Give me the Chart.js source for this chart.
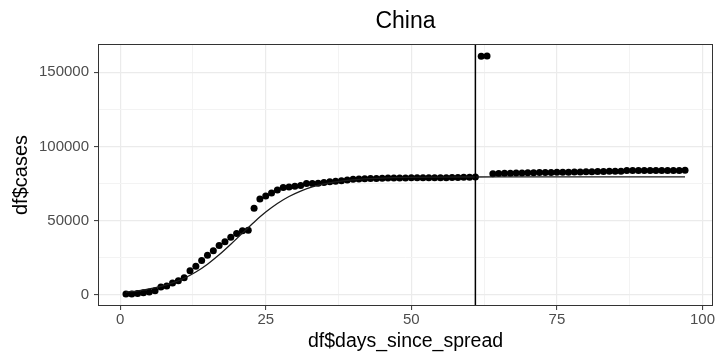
<!DOCTYPE html>
<html>
<head>
<meta charset="utf-8">
<script src="https://cdn.jsdelivr.net/npm/chart.js@4.4.1/dist/chart.umd.min.js"></script>
<style>
  html, body { margin: 0; padding: 0; background: #fff; }
  #wrap { width: 717px; height: 356px; }
</style>
</head>
<body>
<div id="wrap"><canvas id="chart"></canvas></div>
<script>
// Observed data: days since spread vs cumulative cases
const days = [
  1, 2, 3, 4, 5, 6, 7, 8, 9, 10, 11, 12, 13, 14, 15, 16, 17, 18, 19, 20,
  21, 22, 23, 24, 25, 26, 27, 28, 29, 30, 31, 32, 33, 34, 35, 36, 37, 38, 39, 40,
  41, 42, 43, 44, 45, 46, 47, 48, 49, 50, 51, 52, 53, 54, 55, 56, 57, 58, 59, 60,
  61, 62, 63, 64, 65, 66, 67, 68, 69, 70, 71, 72, 73, 74, 75, 76, 77, 78, 79, 80,
  81, 82, 83, 84, 85, 86, 87, 88, 89, 90, 91, 92, 93, 94, 95, 96, 97
];
const cases = [
  550, 630, 900, 1370, 2020, 2800, 5370, 5930, 7940, 9560,
  11600, 16210, 19220, 23110, 26750, 29820, 33250, 35890, 38830, 41290,
  43280, 43640, 58400, 64700, 66700, 68750, 70620, 72350, 72750, 73200,
  73660, 75080, 75100, 75310, 75810, 76210, 76640, 76950, 77370, 77930,
  78130, 78250, 78380, 78520, 78670, 78750, 78800, 78840, 78860, 78900,
  78910, 78920, 78950, 78980, 79010, 79030, 79070, 79130, 79220, 79270,
  79400, 160900, 161050, 81661, 81782, 81897, 81999, 82122, 82198, 82279,
  82361, 82432, 82511, 82543, 82602, 82665, 82718, 82809, 82883, 82941,
  83014, 83134, 83213, 83306, 83356, 83403, 83760, 83787, 83805, 83817,
  83853, 83868, 83884, 83899, 83909, 83912, 83918
];

// Fitted curve
const fitDays = [1, 3, 5, 7, 9, 11, 13, 15, 17, 19, 21, 23, 25, 27, 29, 31, 33, 35, 37, 39,
  41, 43, 45, 47, 50, 55, 60, 70, 80, 97];
const fitCases = [1909, 2760, 3973, 5679, 8038, 11229, 15413, 20687, 27003, 34120,
  41645, 49014, 55789, 61580, 66305, 69982, 72736, 74746, 76186, 77207,
  77918, 78410, 78752, 78987, 79209, 79387, 79456, 79493, 79499, 79500];

const vlineDay = 61;

const xTickLabels = [0, 25, 50, 75, 100];
const yTickLabels = [0, 50000, 100000, 150000];

const FONT = "'Liberation Sans', Arial, Helvetica, sans-serif";

// majors plus a minor grid line half way between each pair
function withMinors(majors) {
  const out = [];
  majors.forEach((v, i) => {
    out.push({ value: v });
    if (i < majors.length - 1) out.push({ value: (v + majors[i + 1]) / 2 });
  });
  return out;
}

const isMajorX = v => xTickLabels.includes(v);
const isMajorY = v => yTickLabels.includes(v);

const frame = {
  id: 'frame',
  afterDatasetsDraw(chart) {
    const { ctx, chartArea: a, scales } = chart;
    const px = scales.x.getPixelForValue(vlineDay);
    ctx.save();
    ctx.strokeStyle = '#000';
    ctx.lineWidth = 1.5;
    ctx.beginPath();
    ctx.moveTo(px, a.top);
    ctx.lineTo(px, a.bottom);
    ctx.stroke();
    ctx.strokeStyle = '#333333';
    ctx.lineWidth = 1;
    ctx.strokeRect(a.left + 0.5, a.top + 0.5, a.right - a.left - 1, a.bottom - a.top - 1);
    ctx.restore();
  }
};

new Chart(document.getElementById('chart'), {
  type: 'scatter',
  data: {
    datasets: [
      {
        type: 'scatter',
        data: days.map((d, i) => ({ x: d, y: cases[i] })),
        pointRadius: 3.5,
        pointBackgroundColor: '#000',
        pointBorderWidth: 0,
        order: 2
      },
      {
        type: 'line',
        data: fitDays.map((d, i) => ({ x: d, y: fitCases[i] })),
        borderColor: '#1a1a1a',
        borderWidth: 1.3,
        pointRadius: 0,
        cubicInterpolationMode: 'monotone',
        fill: false,
        order: 1
      }
    ]
  },
  options: {
    responsive: true,
    maintainAspectRatio: false,
    animation: false,
    layout: { padding: { top: 0, right: 3, bottom: 0, left: 0 } },
    plugins: {
      legend: { display: false },
      tooltip: { enabled: false },
      title: {
        display: true,
        text: 'China',
        fullSize: false,
        color: '#000',
        font: { family: FONT, size: 23, weight: 'normal' },
        padding: { top: 8, bottom: 8.4 }
      }
    },
    scales: {
      x: {
        type: 'linear',
        min: -3.8,
        max: 101.8,
        afterBuildTicks: s => { s.ticks = withMinors(xTickLabels); },
        afterFit: s => { s.height = 50; },
        border: { display: false },
        grid: {
          color: c => isMajorX(c.tick.value) ? '#ebebeb' : '#f3f3f3',
          lineWidth: c => isMajorX(c.tick.value) ? 1.2 : 1,
          tickColor: c => isMajorX(c.tick.value) ? '#333333' : 'rgba(0,0,0,0)',
          tickLength: 4,
          tickWidth: 1
        },
        ticks: {
          autoSkip: false,
          maxRotation: 0,
          padding: 1,
          color: '#4d4d4d',
          font: { family: FONT, size: 15 },
          callback: v => isMajorX(v) ? String(v) : ''
        },
        title: {
          display: true,
          text: 'df$days_since_spread',
          color: '#000',
          font: { family: FONT, size: 19.5 },
          padding: { top: 0, bottom: 3 }
        }
      },
      y: {
        type: 'linear',
        min: -7500,
        max: 169100,
        afterBuildTicks: s => { s.ticks = withMinors(yTickLabels); },
        afterFit: s => { s.width = 98; },
        border: { display: false },
        grid: {
          color: c => isMajorY(c.tick.value) ? '#ebebeb' : '#f3f3f3',
          lineWidth: c => isMajorY(c.tick.value) ? 1.2 : 1,
          tickColor: c => isMajorY(c.tick.value) ? '#333333' : 'rgba(0,0,0,0)',
          tickLength: 4,
          tickWidth: 1
        },
        ticks: {
          autoSkip: false,
          padding: 5,
          color: '#4d4d4d',
          font: { family: FONT, size: 15 },
          callback: v => isMajorY(v) ? String(v) : ''
        },
        title: {
          display: true,
          text: 'df$cases',
          color: '#000',
          font: { family: FONT, size: 20 },
          padding: { top: 9, bottom: 0 }
        }
      }
    }
  },
  plugins: [frame]
});
</script>
</body>
</html>
